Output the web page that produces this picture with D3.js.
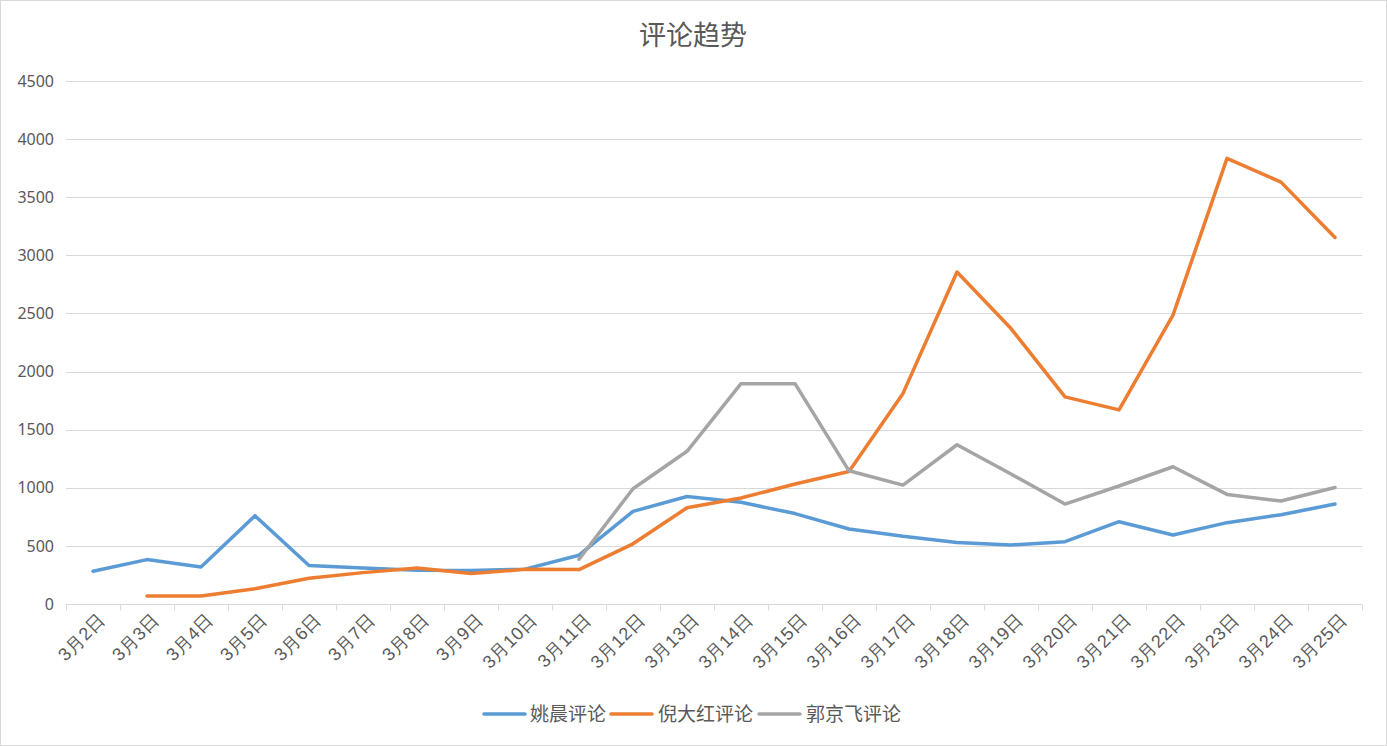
<!DOCTYPE html>
<html><head><meta charset="utf-8">
<script src="https://cdn.jsdelivr.net/npm/d3@7"></script>
<style>
html,body{margin:0;padding:0;background:#fff;}
svg{display:block;font-family:"Noto Sans CJK SC","Microsoft YaHei",sans-serif;}
</style></head>
<body>
<script>
const categories = ["3月2日","3月3日","3月4日","3月5日","3月6日","3月7日","3月8日","3月9日","3月10日","3月11日","3月12日","3月13日","3月14日","3月15日","3月16日","3月17日","3月18日","3月19日","3月20日","3月21日","3月22日","3月23日","3月24日","3月25日"];
const yaoChen = [282,382,318,760,332,310,290,288,300,420,797,925,875,778,645,582,530,508,536,708,594,700,768,860];
const niDahong = [null,68,68,132,222,270,310,262,298,296,518,828,912,1032,1140,1812,2856,2370,1782,1670,2486,3834,3630,3154];
const guoJingfei = [null,null,null,null,null,null,null,null,null,385,992,1314,1896,1896,1146,1023,1370,1118,860,1015,1181,943,886,1003];
const seriesNames = ["姚晨评论","倪大红评论","郭京飞评论"];
const yTicks = [0,500,1000,1500,2000,2500,3000,3500,4000,4500];
const colors = ["#5B9BD5","#ED7D31","#A5A5A5"];

(function(){
const W = 1387, H = 746;
const svg = d3.select("body").append("svg").attr("width", W).attr("height", H);
svg.append("rect").attr("x",0.5).attr("y",0.5).attr("width",W-1).attr("height",H-1)
  .attr("fill","#fff").attr("stroke","#d9d9d9");

const pL = 66, pR = 1362, pT = 81, pB = 604;
const x = d3.scaleBand().domain(categories).range([pL, pR]).padding(0);
const y = d3.scaleLinear().domain([0,4500]).range([pB, pT]);

// title
svg.append("text").attr("x", 693).attr("y", 45).attr("text-anchor","middle")
  .attr("font-size", 27).attr("fill","#595959").text("评论趋势");

// gridlines
svg.append("g").selectAll("line").data(yTicks.filter(d=>d>0)).join("line")
  .attr("x1", pL).attr("x2", pR)
  .attr("y1", d=>Math.round(y(d))+0.5).attr("y2", d=>Math.round(y(d))+0.5)
  .attr("stroke","#d9d9d9").attr("stroke-width",1);

// y axis labels
const yAxis = d3.axisLeft(y).tickValues(yTicks).tickSize(0).tickPadding(12).tickFormat(d3.format("d"));
const gy = svg.append("g").attr("transform",`translate(${pL},0)`).call(yAxis);
gy.select(".domain").remove();
gy.selectAll("text").attr("font-size",16).attr("fill","#595959")
  .attr("font-family","'Noto Sans','Open Sans',sans-serif");

// x axis
const xAxis = d3.axisBottom(x).tickSize(0).tickPadding(0);
const gx = svg.append("g").attr("transform",`translate(0,${Math.round(pB)+0.5})`).call(xAxis);
gx.select(".domain").attr("stroke","#d9d9d9").attr("d", `M${pL},0H${pR}`);
const bounds = categories.map(c=>x(c)).concat([pR]);
gx.append("g").selectAll("line").data(bounds).join("line")
  .attr("x1", d=>Math.round(d)+0.5).attr("x2", d=>Math.round(d)+0.5)
  .attr("y1",0).attr("y2",6).attr("stroke","#d9d9d9");
gx.selectAll(".tick text")
  .attr("font-size",18).attr("fill","#595959")
  .attr("letter-spacing","0.5px")
  .attr("text-anchor","end")
  .attr("transform","translate(9,12) rotate(-45)")
  .attr("dy","0.35em").attr("y",0).attr("x",0);

// lines
const allSeries = [yaoChen, niDahong, guoJingfei];
const line = d3.line()
  .defined(d=>d.v!=null)
  .x(d=>x(d.c)+x.bandwidth()/2)
  .y(d=>y(d.v));
allSeries.forEach((s,i)=>{
  svg.append("path")
    .datum(categories.map((c,j)=>({c, v:s[j]})))
    .attr("d", line).attr("fill","none")
    .attr("stroke", colors[i]).attr("stroke-width",3.5)
    .attr("stroke-linejoin","round").attr("stroke-linecap","round");
});

// legend
const legendItems = [{x:484, tx:530},{x:611, tx:658},{x:759, tx:806}];
legendItems.forEach((it,i)=>{
  svg.append("line").attr("x1",it.x).attr("x2",it.x+41).attr("y1",714).attr("y2",714)
    .attr("stroke",colors[i]).attr("stroke-width",3.5).attr("stroke-linecap","round");
  svg.append("text").attr("x",it.tx).attr("y",714).attr("dy","0.35em")
    .attr("font-size",19).attr("fill","#595959").text(seriesNames[i]);
});
})();
</script>
</body></html>
